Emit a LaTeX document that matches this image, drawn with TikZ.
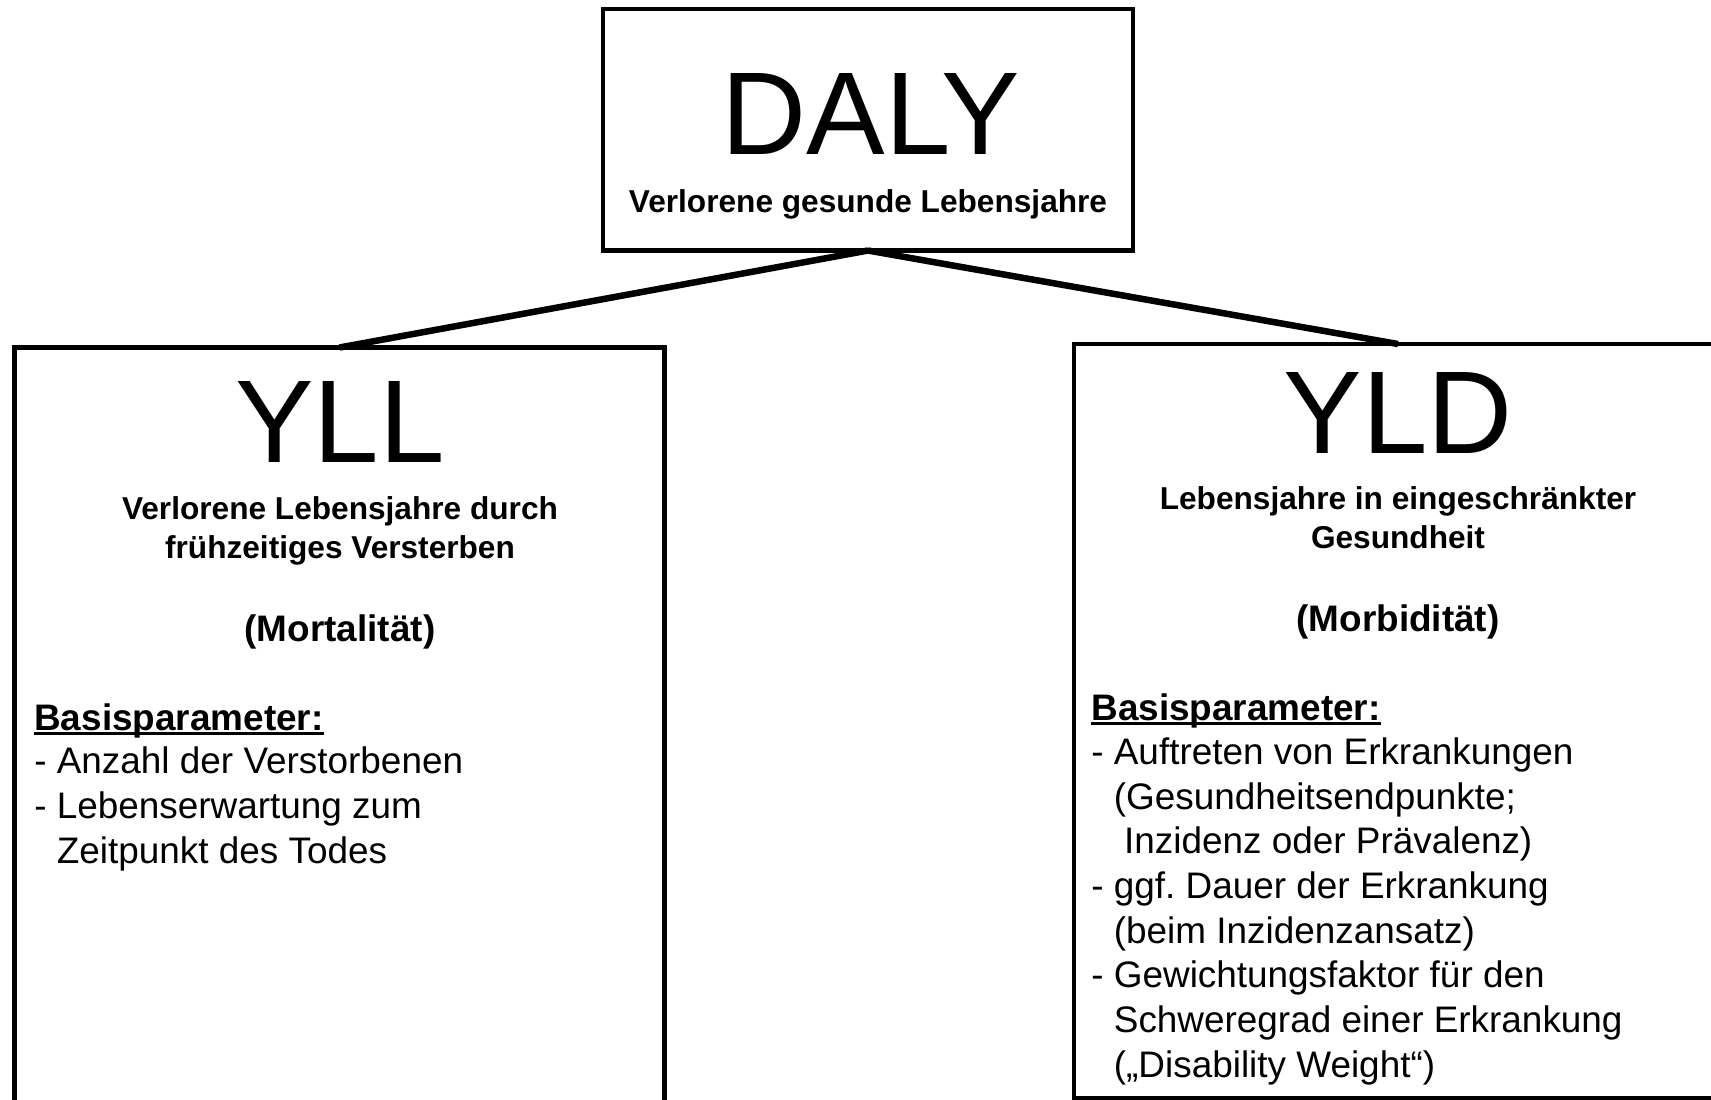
\documentclass[tikz,border=0pt]{standalone}
\usepackage{fontspec}
\setmainfont{Liberation Sans}
\frenchspacing
\tikzset{
  box/.style={draw,line width=2.56pt,inner sep=0pt,outer sep=0pt,anchor=north},
  link/.style={line width=3.7pt},
  big/.style={font=\fontsize{67}{67}\selectfont,anchor=base,inner sep=0pt},
  sub/.style={font=\fontsize{18}{22.2}\selectfont\bfseries,align=center,anchor=base,inner sep=0pt},
  head/.style={font=\fontsize{21}{25.4}\selectfont\bfseries,anchor=base,inner sep=0pt},
  list/.style={font=\fontsize{21}{25.4}\selectfont,align=left,anchor=base west,inner sep=0pt}
}
\newcommand{\ind}{\hphantom{- }}
\newcommand{\basisul}[1]{\setbox0\hbox{#1}\rlap{\rule[-0.13em]{\wd0}{0.07em}}\box0}
\begin{document}
\begin{tikzpicture}[x=0.2mm,y=-0.2mm]
  \clip (0,0) rectangle (1711,1099);
  % boxes
  \node[box,minimum width=106mm,minimum height=48.3mm] (daly) at (868,9) {};
  \node[box,minimum width=130mm,minimum height=160mm] (yll) at (339.5,347.5) {};
  \node[box,minimum width=129.7mm,minimum height=150.8mm] (yld) at (1398,344) {};
  \draw[link] (daly.south) -- (yll.north);
  \draw[link] (daly.south) -- (yld.north);
  % DALY
  \node[big] (dalyt) at (871,154) {DALY};
  \node[sub] (dalys) at (868,212) {Verlorene gesunde Lebensjahre};
  % YLL (multi-line nodes sit on their last baseline)
  \node[big] (yllt) at (340,462) {YLL};
  \node[sub] (ylls) at (340,558) {Verlorene Lebensjahre durch\\frühzeitiges Versterben};
  \node[head] (yllm) at (340,641) {(Mortalität)};
  \node[head,anchor=base west] (yllb) at (34,730) {\basisul{Basisparameter:}};
  \node[list] (ylll) at (34,863) {- Anzahl der Verstorbenen\\- Lebenserwartung zum\\\ind Zeitpunkt des Todes};
  % YLD
  \node[big] (yldt) at (1398,453) {YLD};
  \node[sub] (ylds) at (1398,548) {Lebensjahre in eingeschränkter\\Gesundheit};
  \node[head] (yldm) at (1398,631) {(Morbidität)};
  \node[head,anchor=base west] (yldb) at (1091,720) {\basisul{Basisparameter:}};
  \node[list] (yldl) at (1091,1077) {- Auftreten von Erkrankungen\\\ind(Gesundheitsendpunkte;\\\ind\ Inzidenz oder Prävalenz)\\- ggf. Dauer der Erkrankung\\\ind(beim Inzidenzansatz)\\- Gewichtungsfaktor für den\\\ind Schweregrad einer Erkrankung\\\ind(„Disability Weight“)};
\end{tikzpicture}
\end{document}
